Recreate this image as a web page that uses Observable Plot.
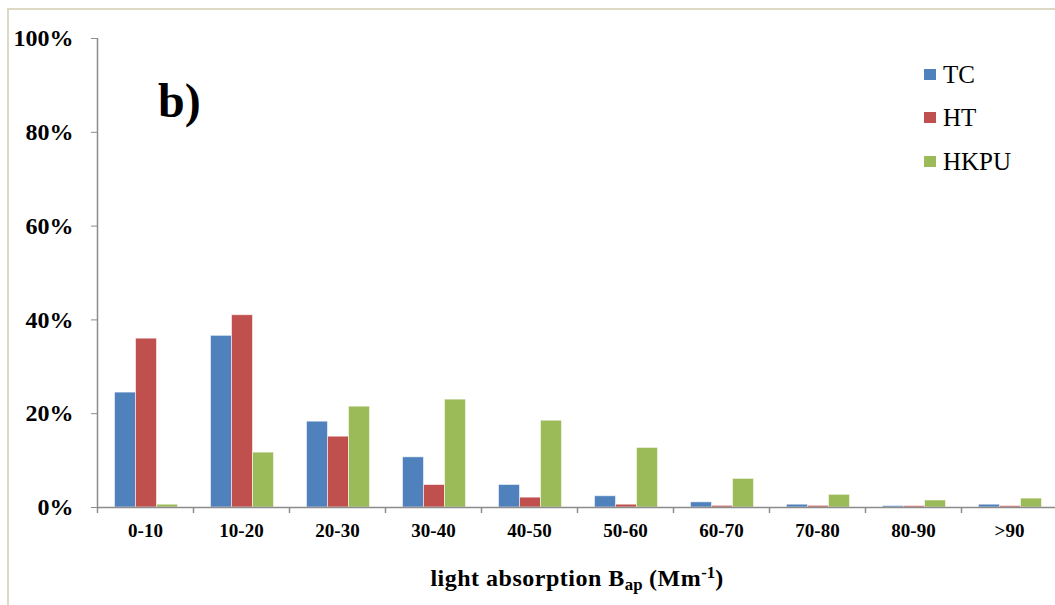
<!DOCTYPE html>
<html><head><meta charset="utf-8">
<script src="https://cdn.jsdelivr.net/npm/d3@7"></script>
<script src="https://cdn.jsdelivr.net/npm/@observablehq/plot@0.6"></script>
<style>
html,body{margin:0;padding:0;background:#fff;overflow:hidden;}
#wrap{position:relative;width:1055px;height:605px;font-family:"Liberation Serif","Times New Roman",serif;overflow:hidden;}
#frame{position:absolute;left:7px;top:8px;width:1060px;height:600px;border-top:2px solid #DDD9C4;border-left:2px solid #DDD9C4;box-sizing:border-box;pointer-events:none;}
#chart{position:absolute;left:0;top:0;}
.ov{position:absolute;line-height:1;white-space:nowrap;color:#000;}
#panel{left:158px;top:77px;font-size:48px;font-weight:bold;}
#xtitle{left:97px;width:960px;top:566px;text-align:center;font-size:24px;letter-spacing:0.5px;font-weight:bold;}
#xtitle sub{font-size:0.7em;vertical-align:-0.25em;line-height:0;letter-spacing:0;}
#xtitle sup{font-size:0.7em;vertical-align:0.45em;line-height:0;letter-spacing:0;}
.sw{position:absolute;width:12px;height:11px;}
.lt{position:absolute;font-size:25px;line-height:1;}
</style>
</head><body>
<div id="wrap">
  <div id="chart"></div>
  <div id="frame"></div>
  <div id="panel" class="ov">b)</div>
  <div id="xtitle" class="ov">light absorption B<sub>ap</sub> (Mm<sup>-1</sup>)</div>
  <div id="legend"></div>
</div>
<script>
const categories = ["0-10","10-20","20-30","30-40","40-50","50-60","60-70","70-80","80-90",">90"];
const seriesNames = ["TC","HT","HKPU"];
const seriesColors = ["#4F81BD","#C0504D","#9BBB59"];
const tcValues   = [24.5, 36.6, 18.3, 10.7, 4.8, 2.4, 1.1, 0.6, 0.3, 0.6];
const htValues   = [36.0, 41.0, 15.1, 4.8, 2.1, 0.6, 0.35, 0.35, 0.3, 0.3];
const hkpuValues = [0.6, 11.7, 21.5, 23.0, 18.5, 12.7, 6.1, 2.7, 1.5, 1.9];
const yTicks = [0, 20, 40, 60, 80, 100];

const seriesValues = [tcValues, htValues, hkpuValues];

const W = 1055, H = 605;
const mL = 97, mR = -2, mT = 38, mB = 98;
const step = (W - mL - mR) / categories.length;
const barW = 21;
const inset = (step - barW) / 2;
const offsets = [-20, 1, 22];
const axisColor = "#8C8C8C";

const rows = seriesNames.map((s, si) => categories.map((c, ci) => ({cat: c, series: s, value: seriesValues[si][ci]})));

const marks = [];
rows.forEach((data, si) => {
  marks.push(Plot.barY(data, {
    x: "cat", y: "value", fill: seriesColors[si],
    dx: offsets[si], insetLeft: inset, insetRight: inset,
    stroke: "#ffffff", strokeOpacity: 0.55, strokeWidth: 1
  }));
});
// baseline
marks.push(Plot.ruleY([0], {stroke: axisColor, strokeWidth: 1.5}));
// y-axis line at left edge
marks.push(Plot.ruleX([categories[0]], {x: d => d, dx: -step / 2, y1: 0, y2: 100, stroke: axisColor, strokeWidth: 1.5}));
// category boundary ticks
marks.push(Plot.ruleX(categories, {x: d => d, dx: -step / 2, y1: 0, y2: 0, insetBottom: -6, stroke: axisColor, strokeWidth: 1.5}));
marks.push(Plot.axisY({ticks: yTicks, tickSize: 6, tickPadding: 18, tickFormat: d => d + "%", stroke: axisColor, fontSize: 24, fontWeight: "bold", fill: "#000", label: null}));
marks.push(Plot.axisX({tickSize: 0, tickPadding: 16, fontSize: 19, fontWeight: "bold", fill: "#000", label: null}));

const chart = Plot.plot({
  width: W, height: H,
  marginLeft: mL, marginRight: mR, marginTop: mT, marginBottom: mB,
  style: {fontFamily: "'Liberation Serif','Times New Roman',serif", background: "transparent", color: "#000", overflow: "visible"},
  x: {domain: categories, padding: 0, label: null},
  y: {domain: [0, 100], label: null},
  marks
});
document.getElementById("chart").appendChild(chart);

// legend
const legend = document.getElementById("legend");
const legTops = [62, 105, 149];
seriesNames.forEach((s, i) => {
  const sw = document.createElement("div");
  sw.className = "sw";
  sw.style.left = "924px";
  sw.style.top = (legTops[i] + 7) + "px";
  sw.style.background = seriesColors[i];
  legend.appendChild(sw);
  const t = document.createElement("div");
  t.className = "lt";
  t.style.left = "943px";
  t.style.top = legTops[i] + "px";
  t.textContent = s;
  legend.appendChild(t);
});
</script>
</body></html>
